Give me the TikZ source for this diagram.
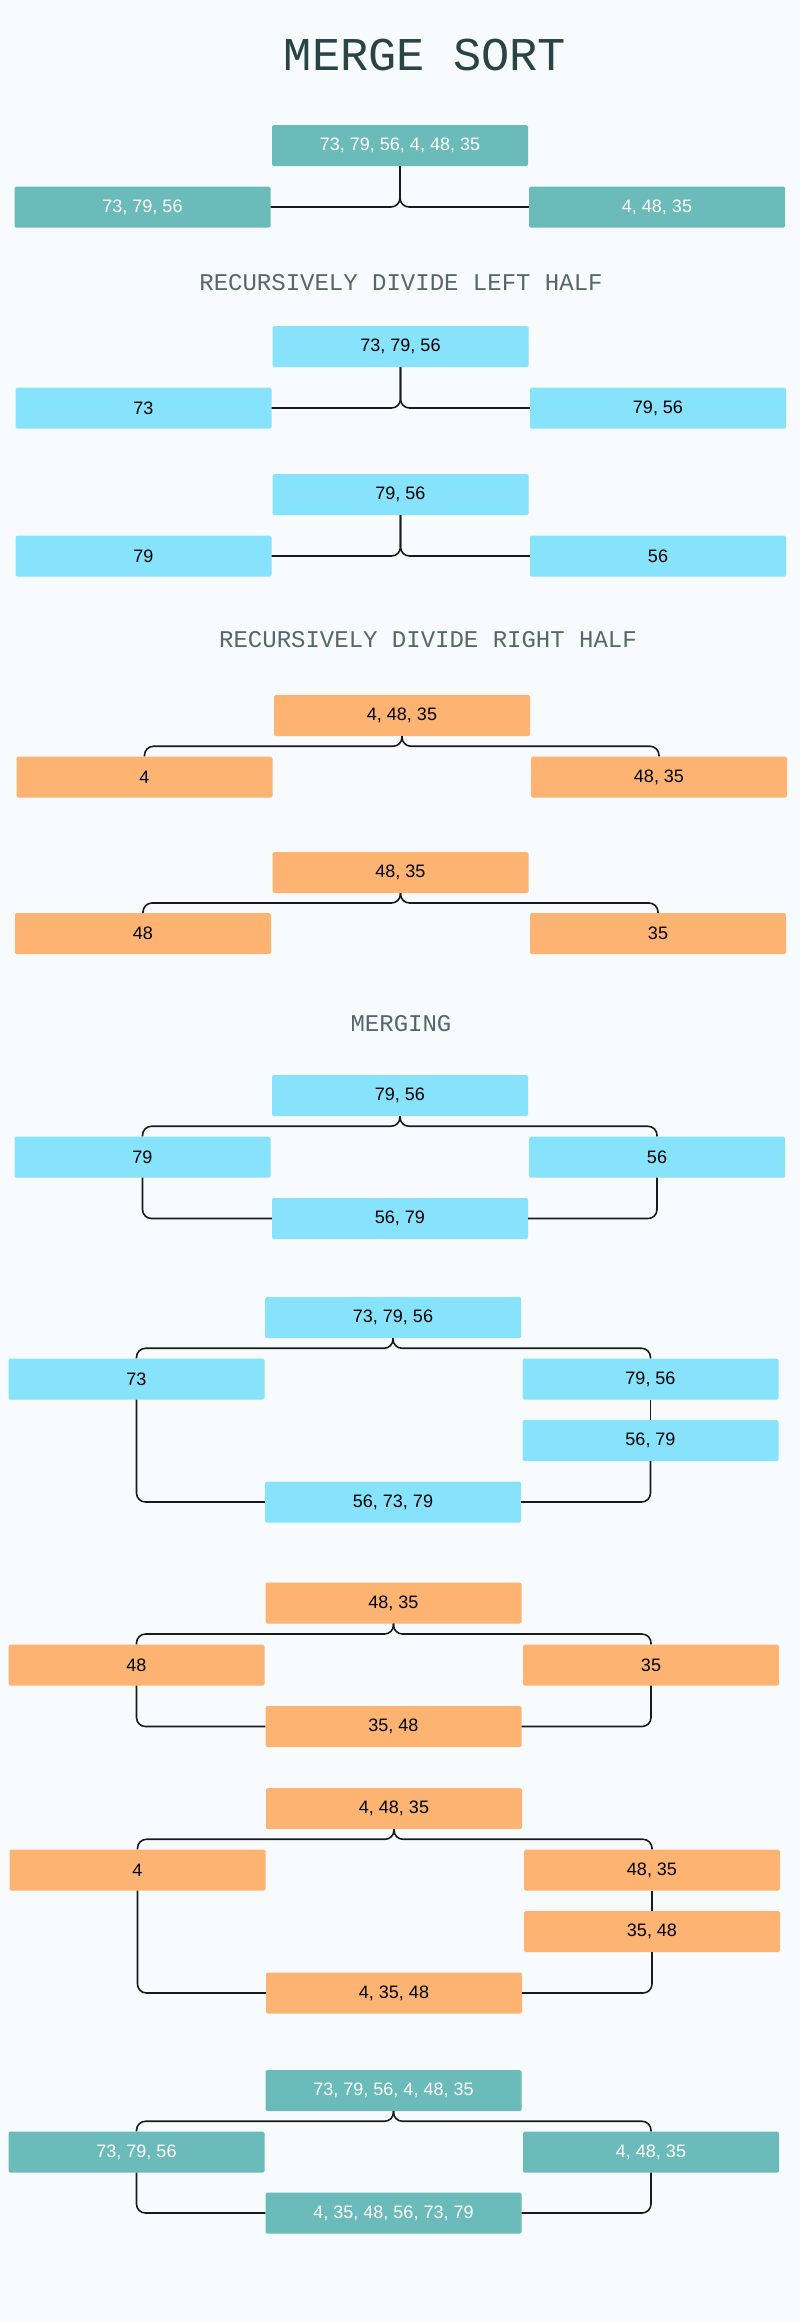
\documentclass[tikz,border=0pt]{standalone}
\usepackage{fontspec}
\setmainfont{Liberation Sans}
\newfontfamily\monofont{Liberation Mono}
\usetikzlibrary{calc}
\definecolor{bgc}{HTML}{F8FBFE}
\definecolor{tealc}{HTML}{6BBBBA}
\definecolor{bluec}{HTML}{87E2FB}
\definecolor{orangec}{HTML}{FDB473}
\definecolor{titlec}{HTML}{2A4444}
\definecolor{headc}{HTML}{56666A}
\definecolor{linec}{HTML}{1A1A1A}
\tikzset{
  cell/.style={minimum width=256pt, minimum height=41pt, inner sep=0pt, rounded corners=1.5pt,
    font=\fontsize{18}{20}\selectfont},
  tealbox/.style={cell, fill=tealc, text=white},
  bluebox/.style={cell, fill=bluec, text=black},
  orangebox/.style={cell, fill=orangec, text=black},
  titletext/.style={anchor=base, inner sep=0pt, text=titlec, font=\monofont\fontsize{47}{50}\selectfont},
  headtext/.style={anchor=base, inner sep=0pt, text=headc, font=\monofont\fontsize{24}{26}\selectfont},
  conn/.style={draw=linec, line width=1.6pt, rounded corners=9pt}
}
\begin{document}
\begin{tikzpicture}[x=1pt, y=-1pt]
\fill[bgc] (0,0) rectangle (800,2322);
\useasboundingbox (0,0) rectangle (800,2322);

\node[titletext] (title) at (425,70) {MERGE SORT};

% group 0
\node[tealbox] (t0) at (400,145.5) {73, 79, 56, 4, 48, 35};
\node[tealbox] (l0) at (142.5,207) {73, 79, 56};
\node[tealbox] (r0) at (657,207) {4, 48, 35};
\draw[conn] (t0.south) -- (t0.south |- l0.east) -- (l0.east);
\draw[conn] (t0.south) -- (t0.south |- r0.west) -- (r0.west);

\node[headtext] (h1) at (401,290) {RECURSIVELY DIVIDE LEFT HALF};

% group 1
\node[bluebox] (t1) at (400.5,346.5) {73, 79, 56};
\node[bluebox] (l1) at (143.5,408) {73};
\node[bluebox] (r1) at (658,408) {79, 56};
\draw[conn] (t1.south) -- (t1.south |- l1.east) -- (l1.east);
\draw[conn] (t1.south) -- (t1.south |- r1.west) -- (r1.west);

% group 2
\node[bluebox] (t2) at (400.5,494.5) {79, 56};
\node[bluebox] (l2) at (143.5,556) {79};
\node[bluebox] (r2) at (658,556) {56};
\draw[conn] (t2.south) -- (t2.south |- l2.east) -- (l2.east);
\draw[conn] (t2.south) -- (t2.south |- r2.west) -- (r2.west);

\node[headtext] (h2) at (428,647) {RECURSIVELY DIVIDE RIGHT HALF};

% group 3
\node[orangebox] (t3) at (402,715.5) {4, 48, 35};
\node[orangebox] (l3) at (144.5,777) {4};
\node[orangebox] (r3) at (659,777) {48, 35};
\coordinate (k3) at ($(t3.south)!0.5!(t3.south |- l3.north)$);
\draw[conn] (t3.south) -- (k3) -- (k3 -| l3.north) -- (l3.north);
\draw[conn] (t3.south) -- (k3) -- (k3 -| r3.north) -- (r3.north);

% group 4
\node[orangebox] (t4) at (400.5,872.5) {48, 35};
\node[orangebox] (l4) at (143,933.5) {48};
\node[orangebox] (r4) at (658,933.5) {35};
\coordinate (k4) at ($(t4.south)!0.5!(t4.south |- l4.north)$);
\draw[conn] (t4.south) -- (k4) -- (k4 -| l4.north) -- (l4.north);
\draw[conn] (t4.south) -- (k4) -- (k4 -| r4.north) -- (r4.north);

\node[headtext] (h3) at (401,1031) {MERGING};

% group 5
\node[bluebox] (t5) at (400,1095.5) {79, 56};
\node[bluebox] (l5) at (142.5,1157) {79};
\node[bluebox] (r5) at (657,1157) {56};
\node[bluebox] (b5) at (400,1218.5) {56, 79};
\coordinate (k5) at ($(t5.south)!0.5!(t5.south |- l5.north)$);
\draw[conn] (t5.south) -- (k5) -- (k5 -| l5.north) -- (l5.north);
\draw[conn] (t5.south) -- (k5) -- (k5 -| r5.north) -- (r5.north);
\draw[conn] (l5.south) -- (l5.south |- b5.west) -- (b5.west);
\draw[conn] (r5.south) -- (r5.south |- b5.east) -- (b5.east);

% group 6
\node[bluebox] (t6) at (393,1317.5) {73, 79, 56};
\node[bluebox] (l6) at (136.5,1379) {73};
\node[bluebox] (r6) at (650.5,1379) {79, 56};
\node[bluebox] (m6) at (650.5,1440.5) {56, 79};
\node[bluebox] (b6) at (393,1502) {56, 73, 79};
\coordinate (k6) at ($(t6.south)!0.5!(t6.south |- l6.north)$);
\draw[conn] (t6.south) -- (k6) -- (k6 -| l6.north) -- (l6.north);
\draw[conn] (t6.south) -- (k6) -- (k6 -| r6.north) -- (r6.north);
\draw[conn] (r6.south) -- (m6.north);
\draw[conn] (l6.south) -- (l6.south |- b6.west) -- (b6.west);
\draw[conn] (m6.south) -- (m6.south |- b6.east) -- (b6.east);

% group 7
\node[orangebox] (t7) at (393.5,1603) {48, 35};
\node[orangebox] (l7) at (136.5,1665) {48};
\node[orangebox] (r7) at (651,1665) {35};
\node[orangebox] (b7) at (393.5,1726.5) {35, 48};
\coordinate (k7) at ($(t7.south)!0.5!(t7.south |- l7.north)$);
\draw[conn] (t7.south) -- (k7) -- (k7 -| l7.north) -- (l7.north);
\draw[conn] (t7.south) -- (k7) -- (k7 -| r7.north) -- (r7.north);
\draw[conn] (l7.south) -- (l7.south |- b7.west) -- (b7.west);
\draw[conn] (r7.south) -- (r7.south |- b7.east) -- (b7.east);

% group 8
\node[orangebox] (t8) at (394,1808.5) {4, 48, 35};
\node[orangebox] (l8) at (137.5,1870) {4};
\node[orangebox] (r8) at (652,1870) {48, 35};
\node[orangebox] (m8) at (652,1931.5) {35, 48};
\node[orangebox] (b8) at (394,1993) {4, 35, 48};
\coordinate (k8) at ($(t8.south)!0.5!(t8.south |- l8.north)$);
\draw[conn] (t8.south) -- (k8) -- (k8 -| l8.north) -- (l8.north);
\draw[conn] (t8.south) -- (k8) -- (k8 -| r8.north) -- (r8.north);
\draw[conn] (r8.south) -- (m8.north);
\draw[conn] (l8.south) -- (l8.south |- b8.west) -- (b8.west);
\draw[conn] (m8.south) -- (m8.south |- b8.east) -- (b8.east);

% group 9
\node[tealbox] (t9) at (393.5,2090.5) {73, 79, 56, 4, 48, 35};
\node[tealbox] (l9) at (136.5,2152) {73, 79, 56};
\node[tealbox] (r9) at (651,2152) {4, 48, 35};
\node[tealbox] (b9) at (393.5,2213) {4, 35, 48, 56, 73, 79};
\coordinate (k9) at ($(t9.south)!0.5!(t9.south |- l9.north)$);
\draw[conn] (t9.south) -- (k9) -- (k9 -| l9.north) -- (l9.north);
\draw[conn] (t9.south) -- (k9) -- (k9 -| r9.north) -- (r9.north);
\draw[conn] (l9.south) -- (l9.south |- b9.west) -- (b9.west);
\draw[conn] (r9.south) -- (r9.south |- b9.east) -- (b9.east);
\end{tikzpicture}
\end{document}
